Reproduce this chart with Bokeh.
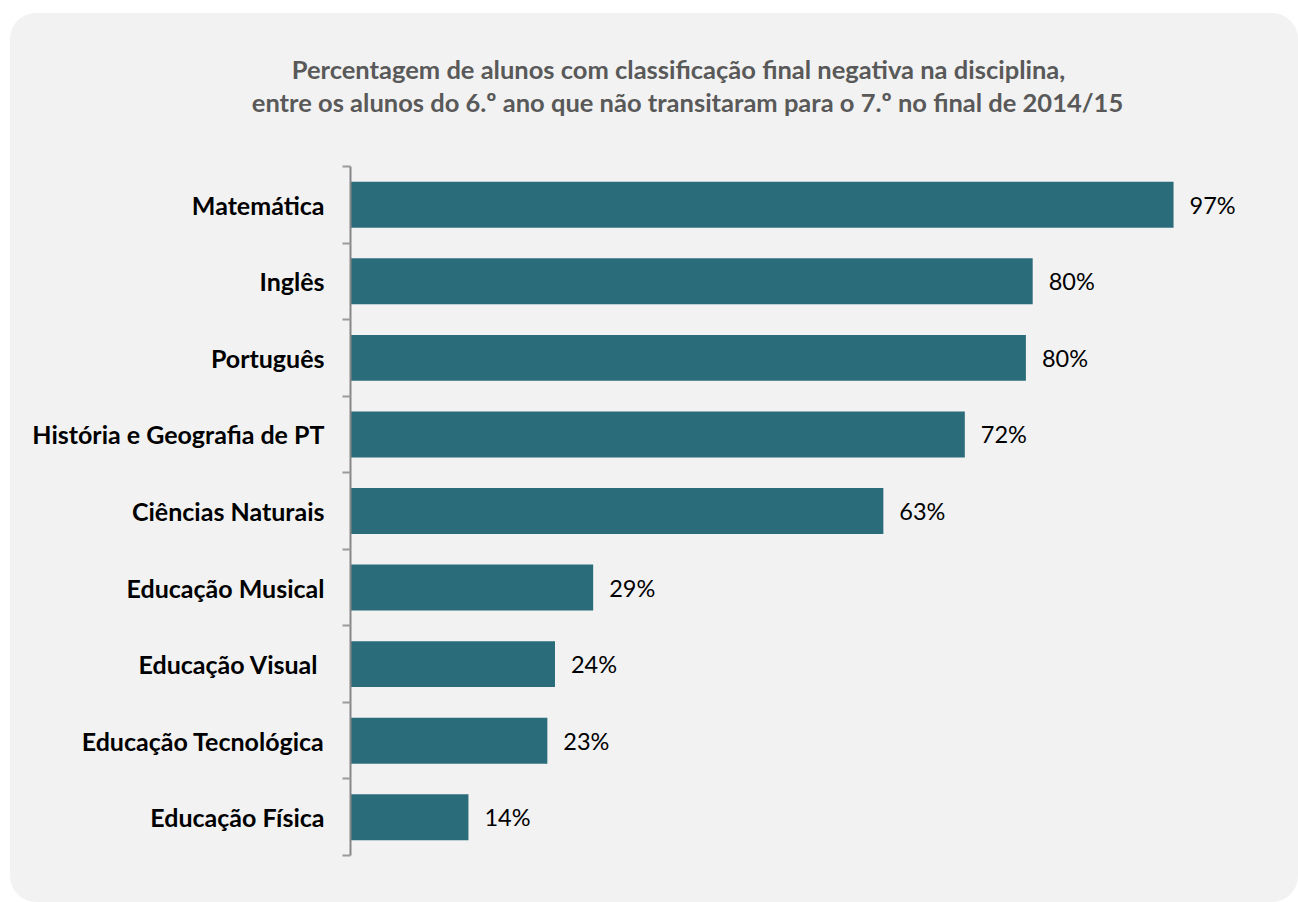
from bokeh.plotting import figure
from bokeh.models import Range1d, FixedTicker, Label, ColumnDataSource
from bokeh.embed import file_html
from bokeh.resources import INLINE
from bokeh.core.properties import value

# ---------------- data ----------------
subjects = ["Matemática", "Inglês", "Português", "História e Geografia de PT",
            "Ciências Naturais", "Educação Musical", "Educação Visual ",
            "Educação Tecnológica", "Educação Física"]
values = [97.0, 80.4, 79.6, 72.4, 62.8, 28.6, 24.1, 23.2, 13.9]
value_labels = ["97%", "80%", "80%", "72%", "63%", "29%", "24%", "23%", "14%"]
title_lines = ["Percentagem de alunos com classificação final negativa na disciplina,",
               "entre os alunos do 6.º ano que não transitaram para o 7.º no final de 2014/15"]

# ---------------- layout constants (page pixels) ----------------
FONT = "Lato"
W, H = 1288, 889
FX0, FY0 = 10, 13               # figure origin on page
FRAME_L, FRAME_R = 20, 1290
FRAME_T, FRAME_B = 20, 882
AXIS_X = 350
AX_T, AX_B = 166, 855           # axis extent
PX_PER_PCT = 8.485
n = len(subjects)
PX_PER_CAT = (AX_B - AX_T) / n

ys = list(range(n, 0, -1))
y_end = n + 0.5 + (AX_T - FRAME_T) / PX_PER_CAT
y_start = 0.5 - (FRAME_B - AX_B) / PX_PER_CAT
x_start = -(AXIS_X - FRAME_L) / PX_PER_PCT
x_end = (FRAME_R - AXIS_X) / PX_PER_PCT

p = figure(width=W, height=H, output_backend="svg", toolbar_location=None,
           x_range=Range1d(x_start, x_end), y_range=Range1d(y_start, y_end),
           min_border_left=FRAME_L - FX0, min_border_right=W - (FRAME_R - FX0),
           min_border_top=FRAME_T - FY0, min_border_bottom=H - (FRAME_B - FY0))
p.border_fill_alpha = 0
p.background_fill_alpha = 0
p.outline_line_color = None
p.styles = {"margin-left": f"{FX0}px", "margin-top": f"{FY0}px",
            "background-color": "#F2F2F2", "border-radius": "26px"}
p.xgrid.visible = False
p.ygrid.visible = False
p.xaxis.visible = False

src = ColumnDataSource(dict(y=ys, v=values, lab=value_labels))
p.hbar(y="y", left=0, right="v", height=0.6, source=src,
       fill_color="#2B6C7B", line_color=None)
p.text(x="v", y="y", text="lab", source=src, x_offset=16, y_offset=0,
       text_align="left", text_baseline="middle",
       text_font=value(FONT), text_font_size="23.5px", text_color="#000000")

ax = p.yaxis[0]
ax.fixed_location = 0
ax.ticker = FixedTicker(ticks=ys, minor_ticks=[k + 0.5 for k in range(0, n + 1)])
ax.major_label_overrides = {y: s for y, s in zip(ys, subjects)}
ax.bounds = (0.5, n + 0.5)
ax.axis_line_color = "#868686"
ax.axis_line_width = 2
ax.major_tick_in = 0
ax.major_tick_out = 0
ax.minor_tick_in = 0
ax.minor_tick_out = 8
ax.minor_tick_line_color = "#9a9a9a"
ax.minor_tick_line_width = 2
ax.major_label_standoff = 18
ax.major_label_text_font = FONT
ax.major_label_text_font_style = "bold"
ax.major_label_text_font_size = "25px"
ax.major_label_text_color = "#000000"

for line, cx, base in zip(title_lines, [678, 687], [68, 101]):
    p.add_layout(Label(x=(cx - AXIS_X) / PX_PER_PCT,
                       y=n + 0.5 + (AX_T - base) / PX_PER_CAT,
                       text=line, text_align="center", text_baseline="alphabetic",
                       text_font=FONT, text_font_style="bold", text_font_size="25.5px",
                       text_color="#595959"))

open("out.html", "w").write(file_html(p, INLINE))
